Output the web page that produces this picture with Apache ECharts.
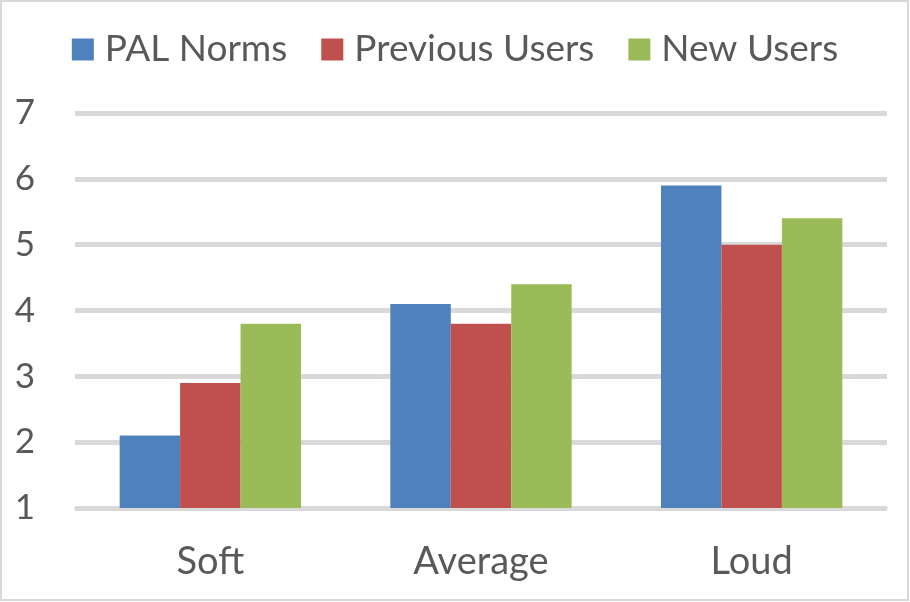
<!DOCTYPE html>
<html><head><meta charset="utf-8">
<script src="https://cdn.jsdelivr.net/npm/echarts@6/dist/echarts.min.js"></script>
<style>html,body{margin:0;padding:0;background:#fff}#c{width:910px;height:602px}</style>
</head><body><div id="c"></div>
<script>
const categories = ['Soft', 'Average', 'Loud'];
const seriesNames = ['PAL Norms', 'Previous Users', 'New Users'];
const palNorms = [2.1, 4.1, 5.9];
const previousUsers = [2.9, 3.8, 5.0];
const newUsers = [3.8, 4.4, 5.4];
const colors = ['#4f81bd', '#c0504d', '#9bbb59'];
const yMin = 1, yMax = 7, yInterval = 1;

const chart = echarts.init(document.getElementById('c'), null, {renderer: 'canvas'});
const font = 'Lato, "Open Sans", sans-serif';
const values = [palNorms, previousUsers, newUsers];
chart.setOption({
  animation: false,
  textStyle: {fontFamily: font},
  graphic: [{type: 'rect', shape: {x: 1, y: 1, width: 907, height: 599}, style: {fill: 'none', stroke: '#d9d9d9', lineWidth: 2}}],
  legend: {
    data: seriesNames, top: 26, left: 'center', itemWidth: 22, itemHeight: 22, itemGap: 34,
    icon: 'rect',
    textStyle: {fontSize: 37, color: '#595959', fontFamily: font, padding: [0, 0, 0, 6]}
  },
  grid: {left: 75, right: 23, top: 113, bottom: 94},
  xAxis: {
    type: 'category', data: categories,
    axisLine: {show: true, lineStyle: {color: '#d9d9d9', width: 2}},
    axisTick: {show: false},
    axisLabel: {fontSize: 38, color: '#595959', margin: 35, fontFamily: font}
  },
  yAxis: {
    type: 'value', min: yMin, max: yMax, interval: yInterval,
    axisLine: {show: false}, axisTick: {show: false},
    splitLine: {lineStyle: {color: '#d9d9d9', width: 5}},
    axisLabel: {fontSize: 35, color: '#595959', margin: 40, fontFamily: font}
  },
  series: seriesNames.map((n, i) => ({
    name: n, type: 'bar', data: values[i], barGap: '0%', barCategoryGap: '33%',
    itemStyle: {color: colors[i]}
  }))
});
</script></body></html>
